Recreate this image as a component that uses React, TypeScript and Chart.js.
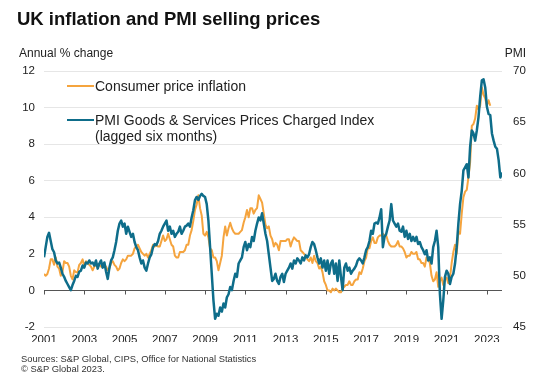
import React, { useEffect, useRef } from "react";
import { Chart, registerables } from "chart.js";

Chart.register(...registerables);

// Monthly data, first point = January 2001
const START_YEAR = 2001;

// UK CPI, annual % change (left axis)
const cpiInflation: number[] = [
  0.9, 0.8, 0.9, 1.2, 1.7, 1.7, 1.4, 1.8, 1.3, 1.2, 0.8, 1.0,
  1.6, 1.5, 1.5, 1.3, 0.8, 0.6, 1.1, 1.0, 1.0, 1.4, 1.5, 1.7,
  1.3, 1.6, 1.5, 1.4, 1.3, 1.1, 1.3, 1.4, 1.4, 1.4, 1.3, 1.3,
  1.4, 1.3, 1.1, 1.2, 1.5, 1.6, 1.4, 1.3, 1.1, 1.2, 1.5, 1.7,
  1.6, 1.7, 1.9, 1.9, 1.9, 2.0, 2.3, 2.4, 2.5, 2.3, 2.1, 2.0,
  1.9, 2.0, 1.8, 2.0, 2.2, 2.5, 2.4, 2.5, 2.4, 2.4, 2.7, 3.0,
  2.7, 2.8, 3.1, 2.8, 2.5, 2.4, 1.9, 1.8, 1.8, 2.1, 2.1, 2.1,
  2.2, 2.5, 2.5, 3.0, 3.3, 3.8, 4.4, 4.7, 5.2, 4.5, 4.1, 3.1,
  3.0, 3.2, 2.9, 2.3, 2.2, 1.8, 1.8, 1.6, 1.1, 1.5, 1.9, 2.9,
  3.5, 3.0, 3.4, 3.7, 3.4, 3.2, 3.1, 3.1, 3.1, 3.2, 3.3, 3.7,
  4.0, 4.4, 4.0, 4.5, 4.5, 4.2, 4.4, 4.5, 5.2, 5.0, 4.8, 4.2,
  3.6, 3.4, 3.5, 3.0, 2.8, 2.4, 2.6, 2.5, 2.2, 2.7, 2.7, 2.7,
  2.7, 2.8, 2.8, 2.4, 2.7, 2.9, 2.8, 2.7, 2.7, 2.2, 2.1, 2.0,
  1.9, 1.7, 1.6, 1.8, 1.5, 1.9, 1.6, 1.5, 1.2, 1.3, 1.0, 0.5,
  0.3, 0.0, 0.0, -0.1, 0.1, 0.0, 0.1, 0.0, -0.1, -0.1, 0.1, 0.2,
  0.3, 0.3, 0.5, 0.3, 0.3, 0.5, 0.6, 0.6, 1.0, 0.9, 1.2, 1.6,
  1.8, 2.3, 2.3, 2.7, 2.9, 2.6, 2.6, 2.9, 3.0, 3.0, 3.1, 3.0,
  3.0, 2.7, 2.5, 2.4, 2.4, 2.4, 2.5, 2.7, 2.4, 2.4, 2.3, 2.1,
  1.8, 1.9, 1.9, 2.1, 2.0, 2.0, 2.1, 1.7, 1.7, 1.5, 1.5, 1.3,
  1.8, 1.7, 1.5, 0.8, 0.5, 0.6, 1.0, 0.2, 0.5, 0.7, 0.3, 0.6,
  0.7, 0.4, 0.7, 1.5, 2.1, 2.5, 2.0, 3.2, 3.1, 4.2, 5.1, 5.4,
  5.5, 6.2, 7.0, 9.0, 9.1, 9.4, 10.1, 9.9, 10.1, 11.1, 10.7, 10.5,
  10.1, 10.4, 10.1,
];

// PMI Goods & Services Prices Charged Index, lagged six months (right axis)
const pmiPricesCharged: number[] = [
  51.8, 52.8, 53.8, 54.2, 53.4, 52.6, 52.3, 51.5, 51.2, 51.3, 50.8, 50.2,
  49.9, 49.5, 49.2, 48.9, 48.6, 49.1, 49.5, 50.0, 49.9, 50.4, 50.5, 51.0,
  50.8, 51.3, 51.2, 51.5, 51.2, 51.3, 51.0, 51.5, 50.7, 51.2, 51.5, 50.8,
  51.3, 50.4, 49.7, 50.8, 51.5, 51.8, 52.5, 53.3, 54.4, 55.1, 55.4, 54.8,
  55.1, 54.1, 54.8, 54.3, 53.8, 54.1, 53.3, 52.8, 52.5, 51.8, 51.2, 51.5,
  50.8, 50.5, 51.2, 51.8, 52.1, 52.8, 53.1, 53.0, 53.4, 54.1, 54.4, 54.8,
  55.1, 55.4, 54.4, 54.8, 54.1, 54.4, 53.8, 54.1, 54.3, 54.8, 54.1, 54.4,
  54.8, 54.9, 55.1, 54.8, 55.7, 56.4, 57.4, 57.7, 57.4, 57.8, 58.0, 57.8,
  57.7, 57.0, 55.4, 52.8, 50.2, 47.6, 45.8, 46.3, 46.1, 46.9, 46.5, 47.3,
  46.9, 47.9, 48.2, 48.9, 48.6, 49.5, 50.2, 49.9, 51.2, 51.5, 51.8, 52.8,
  53.3, 52.5, 53.1, 52.8, 53.8, 53.4, 54.4, 55.1, 55.7, 55.4, 56.1, 55.1,
  54.1, 53.4, 52.1, 50.8, 49.5, 49.7, 50.2, 49.5, 49.2, 49.9, 50.2, 49.4,
  50.2, 50.5, 50.8, 51.2, 50.7, 51.5, 51.2, 51.7, 51.5, 51.2, 51.8, 51.5,
  52.0, 51.8, 52.1, 52.8, 53.3, 53.1, 52.5, 51.8, 51.2, 51.7, 50.8, 51.5,
  50.5, 51.5, 50.2, 51.2, 51.5, 50.2, 51.2, 49.5, 51.5, 49.9, 48.6, 50.8,
  51.2, 50.5, 50.8, 50.2, 50.5, 50.7, 51.0, 51.5, 51.7, 51.5, 51.2, 51.8,
  52.5, 52.8, 53.4, 54.4, 54.1, 55.1, 55.2, 55.1, 55.7, 56.5, 52.8, 53.8,
  54.1, 54.8, 55.4, 57.0, 55.4, 55.1, 54.8, 55.1, 54.4, 54.3, 54.8, 53.8,
  54.4, 53.6, 54.1, 53.4, 53.8, 53.4, 53.8, 53.1, 53.3, 52.8, 52.5, 52.1,
  52.5, 51.5, 51.8, 51.2, 52.8, 53.4, 54.4, 52.8, 48.2, 45.8, 47.6, 49.9,
  50.5, 50.2, 49.2, 49.9, 50.2, 51.2, 52.8, 55.1, 57.0, 58.3, 60.3, 60.6,
  60.9, 59.6, 62.6, 64.2, 63.9, 63.2, 64.2, 65.5, 67.5, 69.1, 69.2, 68.4,
  66.5, 65.8, 65.7, 63.9, 63.2, 62.6, 62.4, 61.3, 59.6, 60.1,
];

const yearTicks: number[] = [2001, 2003, 2005, 2007, 2009, 2011, 2013, 2015, 2017, 2019, 2021, 2023];
const leftTicks: number[] = [-2, 0, 2, 4, 6, 8, 10, 12];
const rightTicks: number[] = [45, 50, 55, 60, 65, 70];

const ORANGE = "#F5A43E";
const TEAL = "#0E6D8A";
const FONT = '"Liberation Sans", Arial, Helvetica, sans-serif';
const TEXT = "#222222";

const toPoints = (vals: number[]) => vals.map((v, i) => ({ x: START_YEAR + i / 12, y: v }));

const zeroLinePlugin = {
  id: "zeroLine",
  beforeDatasetsDraw(chart: any) {
    const { ctx, chartArea, scales } = chart;
    const y = Math.round(scales.y.getPixelForValue(0)) + 0.5;
    ctx.save();
    ctx.strokeStyle = "#555555";
    ctx.lineWidth = 1;
    ctx.beginPath();
    ctx.moveTo(chartArea.left, y);
    ctx.lineTo(chartArea.right, y);
    for (const t of yearTicks) {
      const x = Math.round(scales.x.getPixelForValue(t)) + 0.5;
      ctx.moveTo(x, y);
      ctx.lineTo(x, y + 4);
    }
    ctx.stroke();
    ctx.restore();
  },
};

function ChartCanvas() {
  const ref = useRef<HTMLCanvasElement | null>(null);
  useEffect(() => {
    if (!ref.current) return;
    const tickFont = { family: FONT, size: 11.5 };
    const chart = new Chart(ref.current, {
      type: "line",
      data: {
        datasets: [
          {
            label: "PMI Goods & Services Prices Charged Index (lagged six months)",
            data: toPoints(pmiPricesCharged),
            yAxisID: "y1",
            borderColor: TEAL,
            backgroundColor: TEAL,
            borderWidth: 2.5,
            pointRadius: 0,
            tension: 0,
            borderJoinStyle: "round",
            order: 0,
          },
          {
            label: "Consumer price inflation",
            data: toPoints(cpiInflation),
            yAxisID: "y",
            borderColor: ORANGE,
            backgroundColor: ORANGE,
            borderWidth: 2,
            pointRadius: 0,
            tension: 0,
            borderJoinStyle: "round",
            order: 1,
          },
        ],
      },
      options: {
        responsive: false,
        animation: false,
        devicePixelRatio: 1,
        layout: { padding: { top: 71, bottom: 48, left: 0, right: 0 } },
        plugins: { legend: { display: false }, tooltip: { enabled: false }, title: { display: false } },
        scales: {
          x: {
            type: "linear",
            min: START_YEAR,
            max: START_YEAR + (pmiPricesCharged.length - 1) / 12,
            afterBuildTicks: (s: any) => {
              s.ticks = yearTicks.map((v) => ({ value: v }));
            },
            afterFit: (s: any) => {
              s.height = 15;
            },
            ticks: {
              callback: (v: any) => String(v),
              font: tickFont,
              color: TEXT,
              padding: 6,
              maxRotation: 0,
              autoSkip: false,
            },
            grid: { display: false, drawTicks: false },
            border: { display: false },
          },
          y: {
            position: "left",
            min: -2,
            max: 12,
            afterBuildTicks: (s: any) => {
              s.ticks = leftTicks.map((v) => ({ value: v }));
            },
            afterFit: (s: any) => {
              s.width = 44;
            },
            ticks: { font: tickFont, color: TEXT, padding: 9 },
            grid: {
              drawTicks: false,
              color: (c: any) => (c.tick && c.tick.value === 0 ? "rgba(0,0,0,0)" : "#e6e6e6"),
              lineWidth: 1,
            },
            border: { display: false },
          },
          y1: {
            position: "right",
            min: 45,
            max: 70,
            afterBuildTicks: (s: any) => {
              s.ticks = rightTicks.map((v) => ({ value: v }));
            },
            afterFit: (s: any) => {
              s.width = 52;
            },
            ticks: { font: tickFont, color: TEXT, padding: 11 },
            grid: { display: false, drawTicks: false },
            border: { display: false },
          },
        },
      },
      plugins: [zeroLinePlugin],
    } as any);
    return () => chart.destroy();
  }, []);
  return (
    <canvas
      ref={ref}
      width={554}
      height={390}
      style={{ position: "absolute", left: 0, top: 0, width: 554, height: 390 }}
    />
  );
}

const abs = (left: number, top: number, size: number, extra: React.CSSProperties = {}): React.CSSProperties => ({
  position: "absolute",
  left,
  top,
  fontSize: size,
  lineHeight: `${size}px`,
  whiteSpace: "nowrap",
  color: TEXT,
  ...extra,
});

export default function App() {
  return (
    <div
      style={{
        position: "fixed",
        left: 0,
        top: 0,
        width: 554,
        height: 390,
        background: "#ffffff",
        fontFamily: FONT,
        overflow: "hidden",
      }}
    >
      <ChartCanvas />
      <div style={abs(17, 10, 18.5, { fontWeight: "bold", color: "#111111" })}>UK inflation and PMI selling prices</div>
      <div style={abs(19, 46.5, 12)}>Annual % change</div>
      <div style={{ ...abs(0, 46.5, 12), left: undefined, right: 28 }}>PMI</div>

      <div style={{ position: "absolute", left: 67, top: 84.5, width: 27, height: 2, background: ORANGE }} />
      <div style={abs(95, 78.6, 14)}>Consumer price inflation</div>

      <div style={{ position: "absolute", left: 67, top: 118.8, width: 27, height: 2.5, background: TEAL }} />
      <div style={abs(95, 113.2, 14)}>PMI Goods &amp; Services Prices Charged Index</div>
      <div style={abs(95, 129.2, 14)}>(lagged six months)</div>

      <div style={abs(21, 353.5, 9.4, { color: "#333333" })}>Sources: S&amp;P Global, CIPS, Office for National Statistics</div>
      <div style={abs(21, 364, 9.4, { color: "#333333" })}>© S&amp;P Global 2023.</div>
    </div>
  );
}
